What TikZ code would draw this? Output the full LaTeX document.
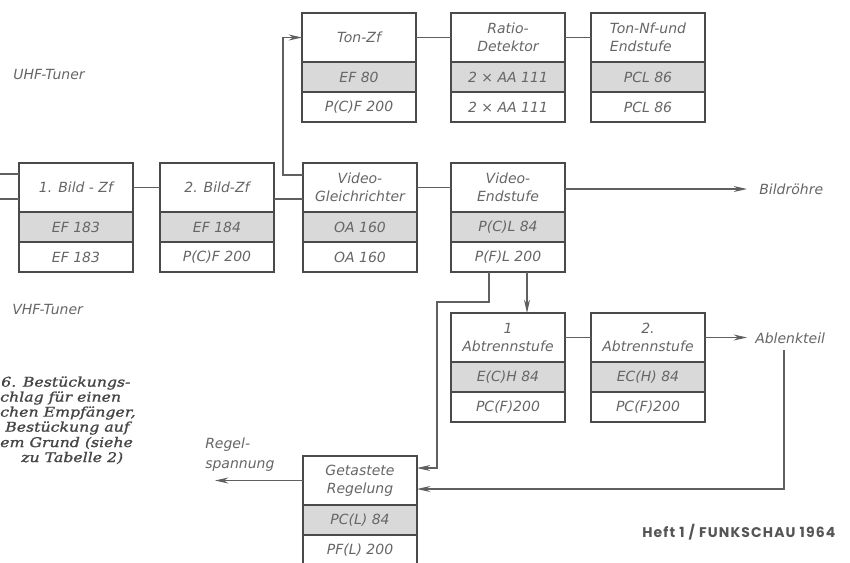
\documentclass[tikz,border=0pt]{standalone}
\usepackage{fontspec}
\setmainfont{DejaVu Sans}
\newfontfamily\labfont{DejaVu Sans}
\newfontfamily\capfont{DejaVu Serif}[FakeStretch=1.18,FakeBold=1.2]
\newfontfamily\heftfont{Poppins}
\usetikzlibrary{arrows.meta,calc}
\definecolor{boxc}{HTML}{4A4A4A}
\definecolor{linec}{HTML}{606060}
\definecolor{shadec}{HTML}{D9D9D9}
\definecolor{txtc}{HTML}{666666}
\definecolor{capc}{HTML}{454545}
\definecolor{heftc}{HTML}{555555}
\tikzset{
  cell/.style={draw=boxc, line width=0.9pt, minimum width=85.5pt, inner sep=0pt, outer sep=0pt,
    font=\labfont\itshape\fontsize{10.5}{13.5}\selectfont, text=txtc, align=center},
  titlecell/.style={cell, minimum height=36.75pt},
  midcell/.style={cell, minimum height=22.5pt, fill=shadec},
  botcell/.style={cell, minimum height=22.5pt},
  frame/.style={draw=boxc, line width=1.3pt},
  conn/.style={draw=linec, line width=0.8pt},
  arr/.style={conn, -{Stealth[length=10pt,width=4.5pt]}},
  lab/.style={font=\labfont\itshape\fontsize{10.5}{15}\selectfont, text=txtc, inner sep=0pt},
  captxt/.style={font=\capfont\itshape\fontsize{10}{12}\selectfont, text=capc, inner sep=0pt, anchor=west},
}
\newcommand\tubebox[7][]{%
  \node[titlecell,#1,anchor=north west] (#2t) at (#3,#4) {#5};
  \node[midcell,anchor=north] (#2m) at (#2t.south) {#6};
  \node[botcell,anchor=north] (#2b) at (#2m.south) {#7};
  \draw[frame] (#2t.north west) rectangle (#2b.south east);
}
\begin{document}
\begin{tikzpicture}[x=0.75pt,y=-0.75pt]
\useasboundingbox (0,0) rectangle (850,562);
\fill[white] (0,0) rectangle (850,562);
\clip (0,0) rectangle (850,562);

% top row
\tubebox{tonzf}{302}{13}{Ton-Zf}{EF 80}{P(C)F 200}
\tubebox{ratio}{451}{13}{Ratio-\\Detektor}{2 × AA 111}{2 × AA 111}
\tubebox[align=left]{tonnf}{591}{13}{Ton-Nf-und\\Endstufe}{PCL 86}{PCL 86}
% middle row
\tubebox{bildA}{19}{163}{1. Bild - Zf}{EF 183}{EF 183}
\tubebox{bildB}{160}{163}{2. Bild-Zf}{EF 184}{P(C)F 200}
\tubebox{vgl}{303}{163}{Video-\\Gleichrichter}{OA 160}{OA 160}
\tubebox{vend}{451}{163}{Video-\\Endstufe}{P(C)L 84}{P(F)L 200}
% lower row
\tubebox{abtA}{451}{313}{1\\Abtrennstufe}{E(C)H 84}{PC(F)200}
\tubebox{abtB}{591}{313}{2.\\Abtrennstufe}{EC(H) 84}{PC(F)200}
\tubebox{getr}{303}{456}{Getastete\\Regelung}{PC(L) 84}{PF(L) 200}

% labels
\node[lab, anchor=west] (uhf) at (13,74) {UHF-Tuner};
\node[lab, anchor=west] (vhf) at (12,309) {VHF-Tuner};
\node[lab, anchor=west, inner xsep=9pt] (bildr) at (747,189) {Bildröhre};
\node[lab, anchor=west, inner xsep=6pt] (ablenk) at (747,338) {Ablenkteil};
\node[lab, anchor=west, align=left] (regel) at (205,455) {Regel-\\spannung};

% connectors
\coordinate (inU) at (0,174);
\coordinate (inV) at (0,199);
\draw[conn] (inU) -- (inU -| bildAt.west);
\draw[conn] (inV) -- (inV -| bildAt.west);
\draw[conn] (bildAt.east) -- (bildBt.west);
\draw[conn] ($(bildBt.east)+(0,11.5)$) -- ($(vglt.west)+(0,11.5)$);
\draw[arr] ($(vglt.west)+(0,-12.5)$) -- ++(-20,0) |- (tonzft.west);
\draw[conn] (tonzft.east) -- (ratiot.west);
\draw[conn] (ratiot.east) -- (tonnft.west);
\draw[conn] (vglt.east) -- (vendt.west);
\draw[arr] ($(vendt.east)+(0,1.5)$) -- ($(vendt.east -| bildr.west)+(0,1.5)$);
\draw[arr] ($(vendb.south)+(19,0)$) -- ($(abtAt.north)+(19,0)$);
\draw[arr] ($(vendb.south)+(-19,0)$) -- ++(0,30) -| ($(getrt.east)+(20,-12.5)$) -- ($(getrt.east)+(0,-12.5)$);
\draw[conn] (abtAt.east) -- (abtBt.west);
\draw[arr] (abtBt.east) -- (abtBt.east -| ablenk.west);
\coordinate (abdown) at (784,350);
\draw[arr] (abdown) |- ($(getrt.east)+(0,8.5)$);
\coordinate (regout) at (215,480.5);
\draw[arr] (getrt.west) -- (regout);

% caption
\node[captxt] (c1) at (1,383) {6. Bestückungs-};
\node[captxt] (c2) at (0,398) {chlag für einen};
\node[captxt] (c3) at (0,413) {chen Empfänger,};
\node[captxt] (c4) at (5,428) {Bestückung auf};
\node[captxt] (c5) at (0,443) {em Grund (siehe};
\node[captxt] (c6) at (21,458) {zu Tabelle 2)};

\node[anchor=west, inner sep=0pt, text=heftc, font=\heftfont\bfseries\fontsize{10.5}{13}\selectfont\addfontfeatures{LetterSpace=8}] (heft) at (642,532) {Heft 1 / FUNKSCHAU 1964};
\end{tikzpicture}
\end{document}
